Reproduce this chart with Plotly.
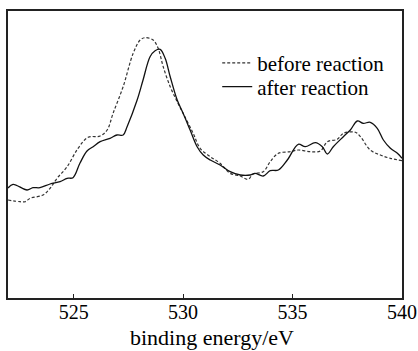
import plotly.graph_objects as go

# binding energy (eV) and intensity (a.u.)
after_energy = [522.00, 522.23, 522.87, 523.14, 523.46, 523.92, 524.38, 524.70, 524.97, 525.29,
                525.61, 525.89, 526.21, 526.66, 526.98, 527.26, 527.44, 527.90, 528.17, 528.49,
                528.72, 528.95, 529.18, 529.41, 529.73, 530.00, 530.32, 530.64, 530.92, 531.24,
                531.69, 532.15, 532.61, 533.07, 533.29, 533.66, 533.98, 534.35, 534.76, 535.26,
                535.58, 536.04, 536.36, 536.59, 536.86, 537.32, 537.64, 537.96, 538.23, 538.55,
                538.87, 539.15, 539.47, 539.79, 540.00]
after_intensity = [110, 113.7, 108, 110.3, 110.3, 114, 116.3, 119.7, 120.3, 135,
                   147, 151.3, 156.3, 159.7, 163, 163, 171.3, 198, 218, 241.3,
                   247.3, 248.7, 239.7, 221.3, 198, 184.7, 168, 151.3, 143, 138,
                   133, 126.3, 123, 123, 124.7, 122, 127.3, 128, 138, 153.7,
                   151.3, 155.3, 151.3, 144, 151.3, 161.3, 168, 177, 174.7, 175.7,
                   169.7, 158, 149.7, 144.7, 139.7]

before_energy = [522.00, 522.55, 522.78, 523.01, 523.60, 523.92, 524.24, 524.70, 525.20, 525.66,
                 526.21, 526.53, 526.80, 527.26, 527.72, 528.04, 528.26, 528.63, 528.86, 529.09,
                 529.41, 529.73, 530.00, 530.46, 530.78, 531.24, 531.69, 532.15, 532.61, 532.97,
                 533.20, 533.66, 533.98, 534.35, 534.90, 535.26, 535.81, 536.27, 536.59, 537.04,
                 537.32, 537.87, 538.10, 538.55, 539.01, 539.47, 540.00]
before_intensity = [98, 96.3, 96.3, 99.7, 103, 109.7, 119.7, 131.3, 149.7, 160.7,
                    162, 168, 184.7, 211.3, 244.7, 258, 260.3, 258, 249.7, 231.3,
                    211.3, 196.3, 184.7, 164.7, 149.7, 141.3, 134.7, 124.7, 122, 118.7,
                    124, 126.3, 136.3, 144.7, 146.3, 148, 146.3, 147, 156.3, 158.7,
                    164.7, 165.7, 161.3, 148, 143, 139.7, 137.3]

x_ticks = [525, 530, 535, 540]
x_title = "binding energy/eV"
FONT = "Liberation Serif"

fig = go.Figure()
fig.add_trace(go.Scatter(x=before_energy, y=before_intensity, mode="lines",
                         name="before reaction", line_shape="spline", legend="legend",
                         line=dict(color="#333333", width=1.2, dash="3px,2px")))
fig.add_trace(go.Scatter(x=after_energy, y=after_intensity, mode="lines",
                         name="after reaction", line_shape="spline", legend="legend2",
                         line=dict(color="#111111", width=1.3)))

legend_common = dict(xanchor="left", yanchor="middle", bgcolor="rgba(0,0,0,0)",
                     borderwidth=0, font=dict(family=FONT, size=21, color="black"),
                     itemwidth=30)

fig.update_layout(
    width=418, height=351,
    margin=dict(l=8, r=16, t=11, b=53),
    paper_bgcolor="white", plot_bgcolor="white",
    font=dict(family=FONT, size=20, color="black"),
    showlegend=True,
    legend=dict(x=0.531, y=0.818, **legend_common),
    legend2=dict(x=0.531, y=0.735, **legend_common),
    xaxis=dict(range=[522, 540], tickvals=x_ticks, ticks="inside", ticklen=4,
               tickwidth=1, tickcolor="#222", showgrid=False, zeroline=False,
               showline=True, linecolor="#222", linewidth=1.5, mirror=True,
               automargin=False, ticklabelstandoff=-5,
               tickfont=dict(family=FONT, size=20)),
    yaxis=dict(range=[0, 287], showticklabels=False, ticks="", showgrid=False,
               automargin=False,
               zeroline=False, showline=True, linecolor="#222", linewidth=1.5, mirror=True),
    annotations=[dict(text=x_title, xref="paper", yref="paper", x=0.519, y=-0.139,
                      xanchor="center", yanchor="middle", showarrow=False,
                      font=dict(family=FONT, size=22, color="black"))],
)

fig.write_html("out.html")
